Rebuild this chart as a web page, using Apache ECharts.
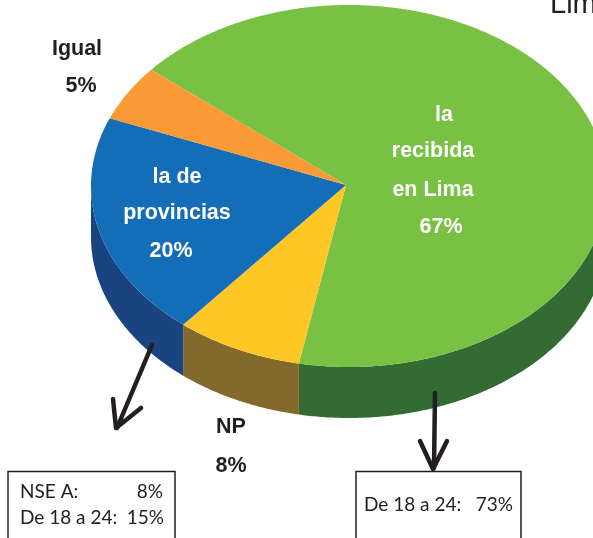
<!DOCTYPE html>
<html><head><meta charset="utf-8">
<style>html,body{margin:0;padding:0;background:#fff}#c{width:593px;height:538px}</style>
<script src="https://cdn.jsdelivr.net/npm/echarts@6/dist/echarts.min.js"></script>
</head><body><div id="c"></div>
<script>
const categories = ['la recibida en Lima', 'NP', 'la de provincias', 'Igual'];
const values = [67, 8, 20, 5];
const topColors = ['#78c143', '#ffc726', '#146eb7', '#f99a36'];
const wallColors = ['#336b32', '#826a2c', '#1a4480', '#f99a36'];
const boxLeft = [['NSE A:', '8%'], ['De 18 a 24:', '15%']];
const boxRight = [['De 18 a 24:', '73%']];

const AX = 346, AY = 185, CX = 349, CY = 186, RX = 258, RY = 181, DEPTH = 51, START = 220;
const total = values.reduce((a, b) => a + b, 0);
const rad = d => d * Math.PI / 180;
const rim = (deg, dy) => [CX + RX * Math.cos(rad(deg)), CY + dy + RY * Math.sin(rad(deg))];
function arc(a, b, dy) {
  const pts = [], n = Math.max(2, Math.ceil(Math.abs(b - a) * 2));
  for (let i = 0; i <= n; i++) pts.push(rim(a + (b - a) * i / n, dy));
  return pts;
}
function startOf(idx) {
  let s = 0;
  for (let i = 0; i < idx; i++) s += values[i];
  return START + s / total * 360;
}
function renderItem(params, api) {
  const i = params.dataIndex;
  const a = startOf(i), b = a + api.value(0) / total * 360;
  const children = [];
  [[0, 180], [360, 540]].forEach(([lo, hi]) => {
    const x = Math.max(a, lo), y = Math.min(b, hi);
    if (y > x) {
      children.push({
        type: 'polygon', z2: 1,
        shape: { points: arc(x, y, 0).concat(arc(y, x, DEPTH)) },
        style: { fill: wallColors[i] }
      });
    }
  });
  children.push({
    type: 'polygon', z2: 2,
    shape: { points: [[AX, AY]].concat(arc(a, b, 0)) },
    style: { fill: topColors[i] }
  });
  return { type: 'group', children };
}
const F = '"Liberation Sans", Arial, sans-serif';
const B = 'Lato, "Open Sans", sans-serif';
const lab = (t, x, y, c) => ({ type: 'text', z: 10, x, y, style: { text: t, fill: c, font: 'bold 21.5px ' + F, align: 'center', verticalAlign: 'middle' } });
const txt = (t, x, y, align) => ({ type: 'text', z: 10, x, y, style: { text: t, fill: '#231f20', font: '19px ' + B, align, verticalAlign: 'middle' } });
const line = pts => ({ type: 'polyline', z: 9, shape: { points: pts }, style: { stroke: '#231f20', lineWidth: 4.5, fill: null, lineCap: 'round', lineJoin: 'round' } });
const rect = (x, y, w, h) => ({ type: 'rect', z: 9, shape: { x, y, width: w, height: h }, style: { fill: '#fff', stroke: '#231f20', lineWidth: 1.5 } });
const W = '#ffffff', K = '#231f20';
const graphics = [
  { type: 'text', z: 10, x: 550, y: 5, style: { text: 'Lima', fill: K, font: '29px ' + F, verticalAlign: 'middle' } },
  lab('Igual', 77, 49, K), lab('5%', 81, 86, K),
  lab('la', 444, 115, W), lab('recibida', 433, 151, W), lab('en Lima', 433, 190, W), lab('67%', 441, 227, W),
  lab('la de', 177, 177, W), lab('provincias', 177, 213, W), lab('20%', 171, 251, W),
  lab('NP', 231, 427, K), lab('8%', 231, 466, K),
  line([[152, 345], [117, 428]]), line([[113, 399], [116, 428], [141, 408]]),
  line([[435, 393], [434, 468]]), line([[420, 441], [433, 469], [447, 441]]),
  rect(8, 471.5, 167, 80), rect(356, 471.5, 165, 80),
  txt(boxLeft[0][0], 20, 492, 'left'), txt(boxLeft[0][1], 163, 492, 'right'),
  txt(boxLeft[1][0], 20, 518, 'left'), txt(boxLeft[1][1], 164, 518, 'right'),
  txt(boxRight[0][0], 364, 505, 'left'), txt(boxRight[0][1], 513, 505, 'right')
];
const chart = echarts.init(document.getElementById('c'), null, { renderer: 'canvas' });
chart.setOption({
  animation: false,
  series: [{
    type: 'custom', coordinateSystem: 'none', silent: true,
    renderItem, data: values.map((v, i) => ({ name: categories[i], value: [v] }))
  }],
  graphic: graphics
});
</script></body></html>
